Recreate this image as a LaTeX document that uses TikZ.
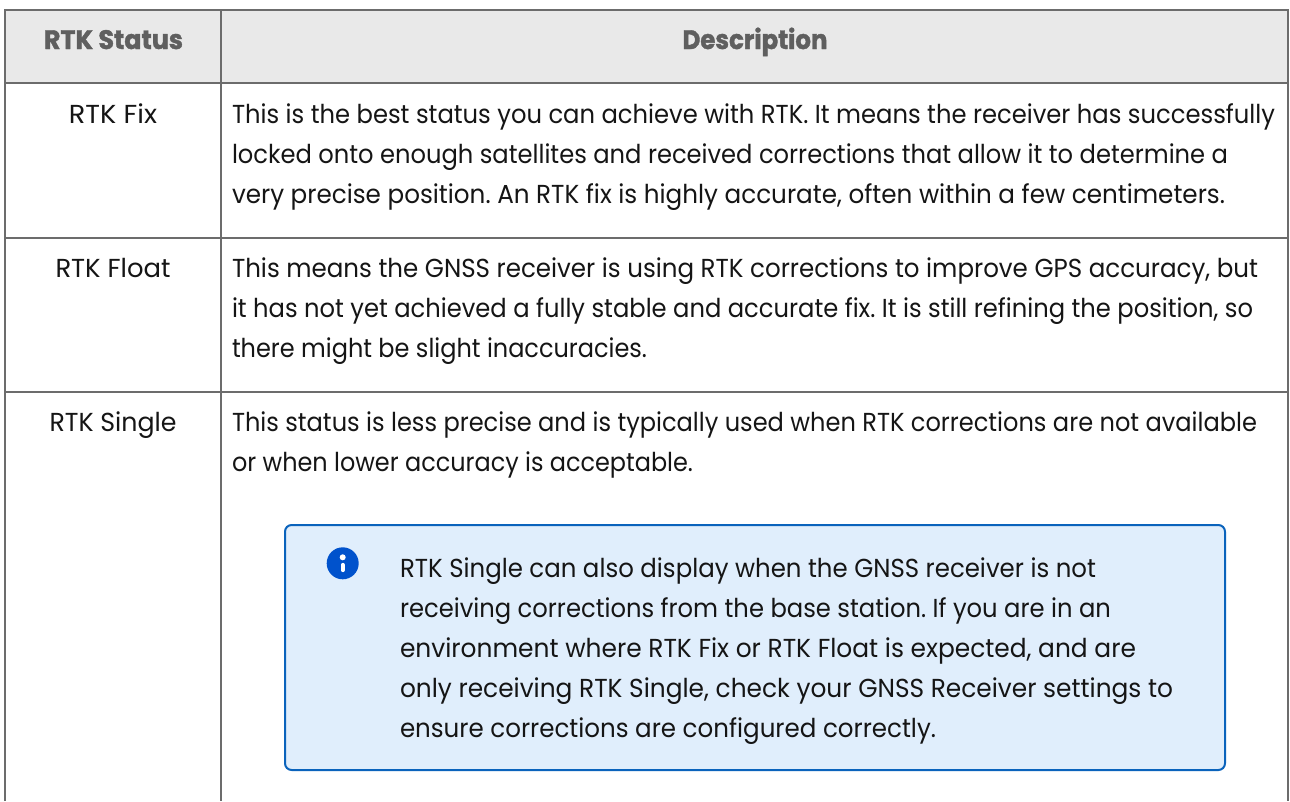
\documentclass[tikz,border=0pt]{standalone}
\usepackage{fontspec}
\usepackage{graphicx}
\setmainfont{Poppins}[FakeStretch=0.933]
\newfontfamily\hfont{Poppins}[FakeStretch=0.95,BoldFeatures={FakeBold=1.5,FakeStretch=0.95}]
\usepackage{xcolor}
\definecolor{rule}{HTML}{6C6C6C}
\definecolor{headbg}{HTML}{E9E9E9}
\definecolor{headtx}{HTML}{5F5F5F}
\definecolor{bodytx}{HTML}{151515}
\definecolor{notebg}{HTML}{E0EEFC}
\definecolor{noteln}{HTML}{0A63BC}
\definecolor{iconb}{HTML}{0052CC}
\newsavebox\fitbox
\newcommand\fitw[2]{\frenchspacing\sbox\fitbox{#2}\pgfmathsetmacro\fitf{0.75*#1/\wd\fitbox}\scalebox{\fitf}[1]{\usebox\fitbox}}
\tikzset{x=0.75pt,y=-0.75pt,
 cell/.style={inner sep=0pt,outer sep=0pt,anchor=base,text=bodytx,font=\fontsize{19.5}{24}\selectfont},
 line/.style={cell,anchor=base west},
 note/.style={line},
 head/.style={inner sep=0pt,anchor=base,text=headtx,font=\hfont\bfseries\fontsize{20}{24}\selectfont},
 tbl/.style={draw=rule,line width=1.5pt}}
\begin{document}
\begin{tikzpicture}
\useasboundingbox (0,0) rectangle (1290,801);
\fill[white] (0,0) rectangle (1290,801);
\fill[headbg] (5,10) rectangle (1288,83);
\coordinate (tl) at (5,10);\coordinate (tr) at (1288,10);
\coordinate (bl) at (5,801);\coordinate (br) at (1288,801);
\coordinate (ct) at (221,10);\coordinate (cb) at (221,801);
\draw[tbl] (bl)--(tl)--(tr)--(br);
\draw[tbl] (ct)--(cb);
\draw[tbl] (5,83)--(1288,83);
\draw[tbl] (5,238)--(1288,238);
\draw[tbl] (5,392)--(1288,392);
\node[head] (h1) at (113.5,49) {\fitw{139}{RTK Status}};
\node[head] (h2) at (755,49) {\fitw{145}{Description}};
\node[cell] (r1) at (113,123.5) {\fitw{88}{RTK Fix}};
\node[cell] (r2) at (113,277) {\fitw{115}{RTK Float}};
\node[cell] (r3) at (113,431) {\fitw{127}{RTK Single}};
\node[line] (a1) at (232,123) {\fitw{1043}{This is the best status you can achieve with RTK. It means the receiver has successfully}};
\node[line] (a2) at (232,163) {\fitw{996}{locked onto enough satellites and received corrections that allow it to determine a}};
\node[line] (a3) at (232,203) {\fitw{993}{very precise position. An RTK fix is highly accurate, often within a few centimeters.}};
\node[line] (b1) at (232,277) {\fitw{1026}{This means the GNSS receiver is using RTK corrections to improve GPS accuracy, but}};
\node[line] (b2) at (232,317) {\fitw{1021}{it has not yet achieved a fully stable and accurate fix. It is still refining the position, so}};
\node[line] (b3) at (232,357) {\fitw{415}{there might be slight inaccuracies.}};
\node[line] (c1) at (232,431) {\fitw{1025}{This status is less precise and is typically used when RTK corrections are not available}};
\node[line] (c2) at (232,471) {\fitw{461}{or when lower accuracy is acceptable.}};
\draw[fill=notebg,draw=noteln,line width=1.5pt,rounded corners=5pt] (285,525) rectangle (1225,770);
\fill[iconb] (342.7,563.3) circle (16);
\fill[white] (342.7,557.3) circle (3);
\draw[white,line width=3.2pt,line cap=round] (342.7,565)--(342.7,570);
\node[note] (n1) at (400,577) {\fitw{696}{RTK Single can also display when the GNSS receiver is not}};
\node[note] (n2) at (400,617) {\fitw{711}{receiving corrections from the base station. If you are in an}};
\node[note] (n3) at (400,657) {\fitw{736}{environment where RTK Fix or RTK Float is expected, and are}};
\node[note] (n4) at (400,697) {\fitw{773}{only receiving RTK Single, check your GNSS Receiver settings to}};
\node[note] (n5) at (400,737) {\fitw{536}{ensure corrections are configured correctly.}};
\end{tikzpicture}
\end{document}
